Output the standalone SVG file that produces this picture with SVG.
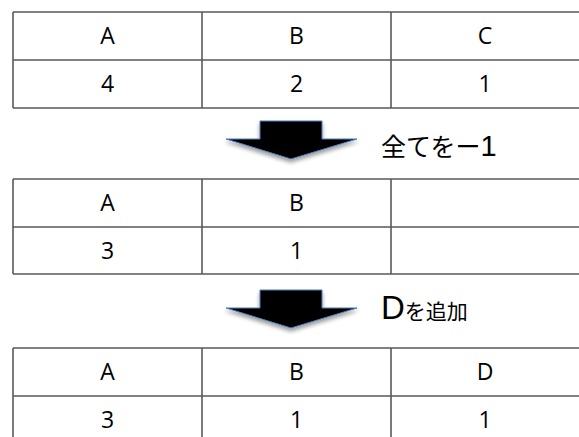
<svg xmlns="http://www.w3.org/2000/svg" width="579" height="437" viewBox="0 0 579 437">
<style>
.g{stroke:#5a5a5a;stroke-width:1.6;fill:none}
.t{font-family:"Open Sans","Liberation Sans","Noto Sans CJK JP",sans-serif;font-size:23px;fill:#000;text-anchor:middle}
.j{font-family:"Noto Sans CJK JP",sans-serif;font-size:25px;fill:#000}
.arr{fill:#000;stroke:#4f81bd;stroke-width:1;filter:url(#sh)}
</style>
<defs>
<filter id="sh" x="-20%" y="-20%" width="140%" height="160%">
<feGaussianBlur in="SourceAlpha" stdDeviation="2"/>
<feOffset dy="3" result="b"/>
<feComponentTransfer><feFuncA type="linear" slope="0.4"/></feComponentTransfer>
<feMerge><feMergeNode/><feMergeNode in="SourceGraphic"/></feMerge>
</filter>
<polygon id="ar" points="260,121 322,121 322,139 357,139 291,159 226,139 260,139"/>
</defs>
<g id="table1">
<path class="g" d="M13,12H590M13,60H590M13,108H590M13,12V108M202,12V108M391,12V108"/>
<text class="t" x="107.5" y="44">A</text>
<text class="t" x="296.5" y="44">B</text>
<text class="t" x="485" y="44">C</text>
<text class="t" x="107.5" y="92">4</text>
<text class="t" x="296.5" y="92">2</text>
<text class="t" x="485" y="92">1</text>
</g>
<g id="table2">
<path class="g" d="M13,179H590M13,227H590M13,274H590M13,179V274M202,179V274M391,179V274"/>
<text class="t" x="107.5" y="211">A</text>
<text class="t" x="296.5" y="211">B</text>
<text class="t" x="107.5" y="259">3</text>
<text class="t" x="296.5" y="259">1</text>
</g>
<g id="table3">
<path class="g" d="M13,348H590M13,396H590M13,443H590M13,348V443M202,348V443M391,348V443"/>
<text class="t" x="107.5" y="380">A</text>
<text class="t" x="296.5" y="380">B</text>
<text class="t" x="485" y="380">D</text>
<text class="t" x="107.5" y="428">3</text>
<text class="t" x="296.5" y="428">1</text>
<text class="t" x="485" y="428">1</text>
</g>
<g id="connectors">
<use href="#ar" class="arr"/>
<use href="#ar" class="arr" y="169"/>
</g>
<g id="label1">
<text class="j" x="381" y="156">全てをー<tspan font-family="Liberation Sans,sans-serif" font-size="29">1</tspan></text>
</g>
<g id="label2">
<text class="j" x="381" y="319"><tspan font-family="Liberation Sans,sans-serif" font-size="33">D</tspan><tspan font-size="21">を追加</tspan></text>
</g>
</svg>
